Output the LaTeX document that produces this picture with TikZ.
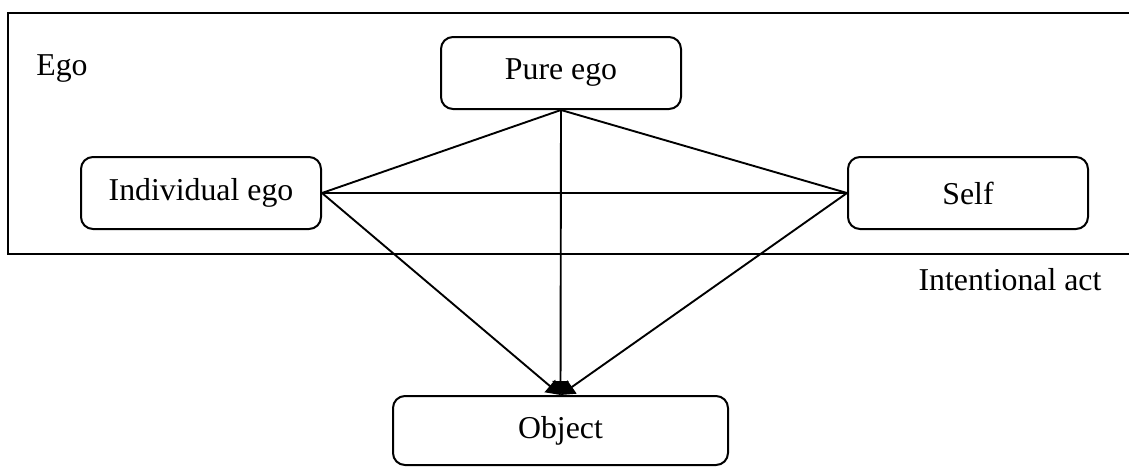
\documentclass[tikz,border=0pt]{standalone}
\usepackage{fontspec}
\setmainfont{Liberation Serif}
\usetikzlibrary{arrows.meta}
\tikzstyle{box}=[draw,rounded corners=6pt,line width=1pt,minimum width=120pt,minimum height=36pt,inner sep=0pt]
\tikzstyle{edge} = [draw,line width=0.95pt]
\tikzstyle{act} = [edge,-{Triangle[length=7pt,width=8pt]}]
\tikzstyle{tag} = [inner sep=0pt]

\begin{document}
\begin{tikzpicture}[x=0.5pt,y=-0.5pt,font=\fontsize{15.9}{19}\selectfont]
				\useasboundingbox (0,0) rectangle (1129,467);
				% The open frame round the ego part
				\draw[line width=1.1pt] (1129,13) -- (8,13) -- (8,254) -- (1129,254);
				\node[tag,anchor=base west] (ego) at (36,75) {Ego};

				% First we draw the boxes
				\foreach \pos/\name/\text in {{(561,73)/pure/Pure ego}, {(201,193)/ind/Individual ego},
										{(968,193)/self/Self}}
				\node[box] (\name) at \pos {\text};
				\node[box,minimum width=167.5pt,minimum height=34.5pt] (obj) at (560.5,430.5) {Object};
				\node[tag,anchor=base] (intent) at (1010,290) {Intentional act};

				% Connect the boxes
				\foreach \source/\dest in {pure.south/ind.east, pure.south/self.west, ind.east/self.west}
				\path[edge] (\source) -- (\dest);

				\foreach \source in {pure.south, ind.east, self.west}
				\path[act] (\source) -- (obj.north);

			\end{tikzpicture}
\end{document}
